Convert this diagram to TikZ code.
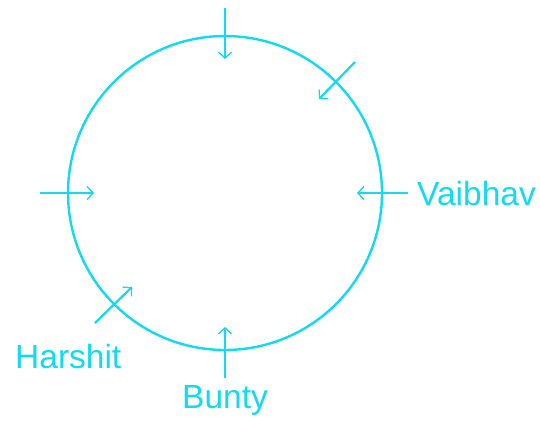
\documentclass[tikz,border=0pt]{standalone}
\usepackage{fontspec}
\setmainfont{Liberation Sans}
\usepackage{xcolor}
\usetikzlibrary{arrows.meta, positioning}
\definecolor{seat}{RGB}{18,218,240}
\tikzset{
  ring/.style={draw=seat, circle, line width=2.4pt, minimum size=314pt, inner sep=0pt},
  facing/.style={-{Straight Barb[length=6pt,width=13pt,line width=1.3pt]}, seat, line width=2.2pt},
  person/.style={text=seat, inner sep=0pt, font=\fontsize{33.5}{36}\selectfont}
}
\begin{document}
\begin{tikzpicture}[x=1pt,y=-1pt]
    \useasboundingbox (0,0) rectangle (540,420);
    \node[ring] (table) at (225,193) {};
    % outer ends and inner ends of the arrows
    \coordinate (topout) at (225,8);
    \coordinate (topin) at (225,59);
    \coordinate (trout) at (355,62);
    \coordinate (trin) at (319,99);
    \coordinate (leftout) at (40,193);
    \coordinate (leftin) at (94,193);
    \coordinate (rightout) at (408,193);
    \coordinate (rightin) at (357,193);
    \coordinate (blout) at (95,323);
    \coordinate (blin) at (132,287);
    \coordinate (botout) at (225,378);
    \coordinate (botin) at (225,327);
    \draw[facing] (topout) -- (topin);
    \draw[facing] (trout) -- (trin);
    \draw[facing] (leftout) -- (leftin);
    \draw[facing] (rightout) -- (rightin);
    \draw[facing] (blout) -- (blin);
    \draw[facing] (botout) -- (botin);
    \node[person, anchor=base west] (vaibhav) at (417,205) {Vaibhav};
    \node[person, anchor=base west] (harshit) at (15,368) {Harshit};
    \node[person, anchor=base] (bunty) at (225,408) {Bunty};
\end{tikzpicture}
\end{document}
